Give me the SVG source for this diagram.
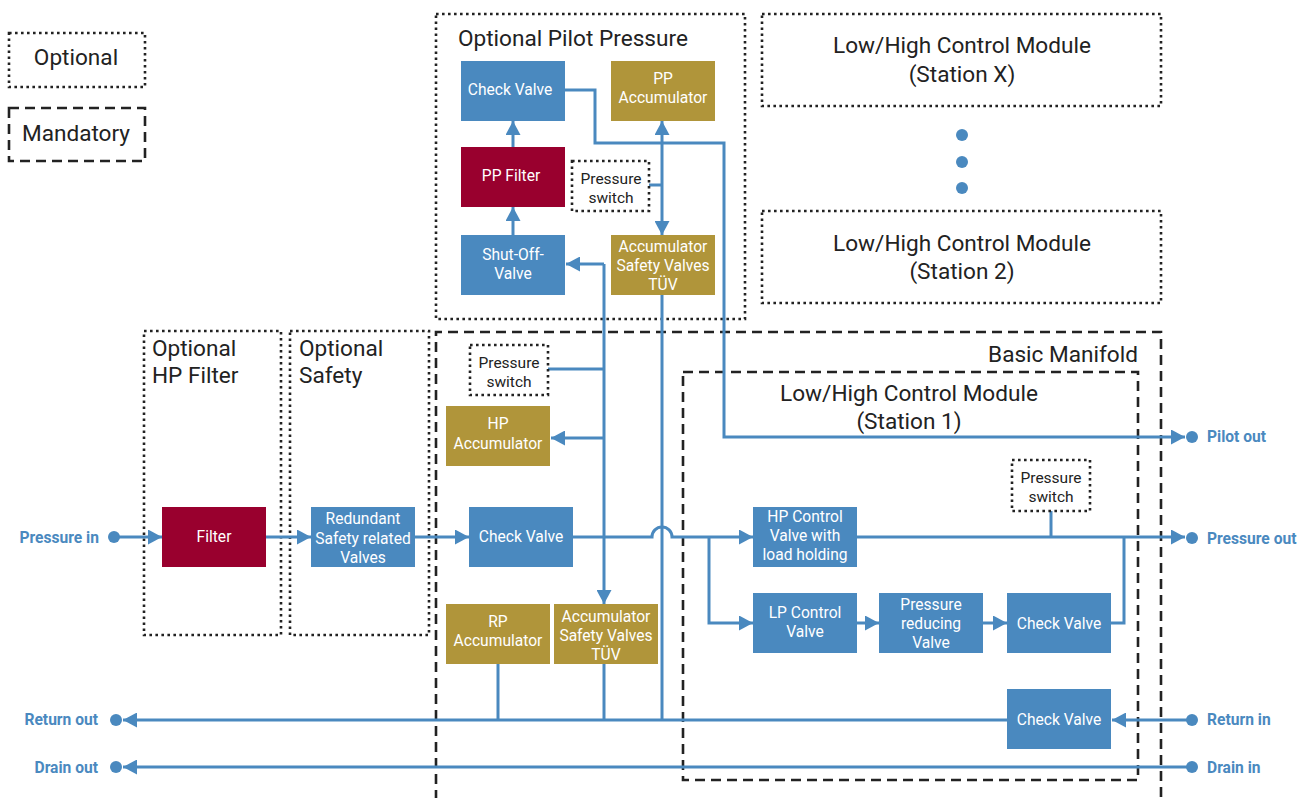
<svg xmlns="http://www.w3.org/2000/svg" width="1310" height="798" viewBox="0 0 1310 798">
<defs>
<style>
.bg{fill:#ffffff}
.dot{fill:none;stroke:#222;stroke-width:2.6;stroke-dasharray:2.6 3.4}
.dash{fill:none;stroke:#222;stroke-width:2.6;stroke-dasharray:10 6}
.blue{fill:#4a89bf}
.gold{fill:#b0953a}
.red{fill:#99002e}
.bt{font-family:Roboto,"Liberation Sans",sans-serif;font-size:15.6px;fill:#ffffff;text-anchor:middle}
.st{font-family:Roboto,"Liberation Sans",sans-serif;font-size:15.5px;fill:#222;text-anchor:middle}
.tt{font-family:Roboto,"Liberation Sans",sans-serif;font-size:22.6px;fill:#222}
.pl{font-family:Roboto,"Liberation Sans",sans-serif;font-size:15.6px;font-weight:bold;fill:#4a89bf}
.ln{fill:none;stroke:#4a89bf;stroke-width:3}
.pt{fill:#4a89bf}
</style>
<marker id="ah" viewBox="0 0 14 15" refX="14" refY="7.5" markerWidth="14" markerHeight="15" markerUnits="userSpaceOnUse" orient="auto-start-reverse">
<path d="M0,0 L14,7.5 L0,15 Z" fill="#4a89bf"/>
</marker>
</defs>
<rect class="bg" x="0" y="0" width="1310" height="798"/>

<g id="legend">
<rect class="dot" x="9" y="33" width="136" height="54"/>
<text class="tt" x="76" y="65" text-anchor="middle">Optional</text>
<rect class="dash" x="9" y="108" width="136" height="53"/>
<text class="tt" x="76" y="141" text-anchor="middle">Mandatory</text>
</g>

<g id="optional-pilot-pressure">
<rect class="dot" x="436" y="14" width="309" height="305"/>
<text class="tt" x="458" y="46">Optional Pilot Pressure</text>
</g>
<g id="optional-hp-filter">
<rect class="dot" x="144" y="331" width="137" height="304"/>
<text class="tt" x="152" y="356">Optional</text>
<text class="tt" x="152" y="383">HP Filter</text>
</g>
<g id="optional-safety">
<rect class="dot" x="290" y="331" width="139" height="304"/>
<text class="tt" x="299" y="356">Optional</text>
<text class="tt" x="299" y="383">Safety</text>
</g>
<g id="basic-manifold">
<path class="dash" d="M436,800 V332 H1161 V800"/>
<text class="tt" x="1138" y="362" text-anchor="end">Basic Manifold</text>
</g>
<g id="station-1">
<rect class="dash" x="683" y="372" width="455" height="408"/>
<text class="tt" x="909" y="401" text-anchor="middle">Low/High Control Module</text>
<text class="tt" x="909" y="429" text-anchor="middle">(Station 1)</text>
</g>
<g id="station-x">
<rect class="dot" x="762" y="14" width="399" height="92"/>
<text class="tt" x="962" y="53" text-anchor="middle">Low/High Control Module</text>
<text class="tt" x="962" y="82" text-anchor="middle">(Station X)</text>
</g>
<g id="station-2">
<rect class="dot" x="762" y="211" width="399" height="92"/>
<text class="tt" x="962" y="251" text-anchor="middle">Low/High Control Module</text>
<text class="tt" x="962" y="279" text-anchor="middle">(Station 2)</text>
</g>
<g id="ellipsis">
<circle class="pt" cx="962" cy="135" r="6"/>
<circle class="pt" cx="962" cy="162" r="6"/>
<circle class="pt" cx="962" cy="188" r="6"/>
</g>

<g id="connectors">
<path class="ln" d="M565,90 H595 V143 H724 V437 H1185" marker-end="url(#ah)"/>
<path class="ln" d="M662,121 V235" marker-start="url(#ah)" marker-end="url(#ah)"/>
<path class="ln" d="M649,185 H662"/>
<path class="ln" d="M513,147 V121" marker-end="url(#ah)"/>
<path class="ln" d="M513,235 V207" marker-end="url(#ah)"/>
<path class="ln" d="M604,264 H566" marker-end="url(#ah)"/>
<path class="ln" d="M604,264 V604" marker-end="url(#ah)"/>
<path class="ln" d="M548,369 H604"/>
<path class="ln" d="M604,438 H551" marker-end="url(#ah)"/>
<path class="ln" d="M662,295 V720"/>
<path class="ln" d="M114,537 H162" marker-end="url(#ah)"/>
<path class="ln" d="M266,537 H311" marker-end="url(#ah)"/>
<path class="ln" d="M415,537 H469" marker-end="url(#ah)"/>
<path class="ln" d="M573,537 H652 A10,10 0 0 1 672,537 H753" marker-end="url(#ah)"/>
<path class="ln" d="M709,537 V623 H753" marker-end="url(#ah)"/>
<path class="ln" d="M857,623 H879" marker-end="url(#ah)"/>
<path class="ln" d="M983,623 H1007" marker-end="url(#ah)"/>
<path class="ln" d="M1111,623 H1124 V537"/>
<path class="ln" d="M857,537 H1185" marker-end="url(#ah)"/>
<path class="ln" d="M1051,511 V537"/>
<path class="ln" d="M498,664 V720"/>
<path class="ln" d="M604,664 V720"/>
<path class="ln" d="M1007,720 H123" marker-end="url(#ah)"/>
<path class="ln" d="M1192,720 H1112" marker-end="url(#ah)"/>
<path class="ln" d="M1192,767 H123" marker-end="url(#ah)"/>
<circle class="pt" cx="114" cy="537" r="6"/>
<circle class="pt" cx="1192" cy="437" r="6"/>
<circle class="pt" cx="1192" cy="538" r="6"/>
<circle class="pt" cx="1192" cy="720" r="6"/>
<circle class="pt" cx="1192" cy="767" r="6"/>
<circle class="pt" cx="116" cy="720" r="6"/>
<circle class="pt" cx="116" cy="767" r="6"/>
</g>

<g id="pp-check-valve"><rect class="blue" x="461" y="61" width="104" height="60"/><text class="bt" x="510" y="95">Check Valve</text></g>
<g id="pp-accumulator"><rect class="gold" x="611" y="61" width="104" height="60"/><text class="bt" x="663" y="84">PP</text><text class="bt" x="663" y="103">Accumulator</text></g>
<g id="pp-filter"><rect class="red" x="461" y="147" width="104" height="60"/><text class="bt" x="511" y="181">PP Filter</text></g>
<g id="pp-pressure-switch"><rect class="dot" x="572" y="161" width="77" height="50"/><text class="st" x="611" y="184">Pressure</text><text class="st" x="611" y="203">switch</text></g>
<g id="shut-off-valve"><rect class="blue" x="461" y="235" width="104" height="60"/><text class="bt" x="513" y="260">Shut-Off-</text><text class="bt" x="513" y="279">Valve</text></g>
<g id="pp-acc-safety"><rect class="gold" x="611" y="235" width="104" height="60"/><text class="bt" x="663" y="252">Accumulator</text><text class="bt" x="663" y="271">Safety Valves</text><text class="bt" x="663" y="290">TÜV</text></g>

<g id="filter"><rect class="red" x="162" y="507" width="104" height="60"/><text class="bt" x="214" y="542">Filter</text></g>
<g id="redundant-safety"><rect class="blue" x="311" y="507" width="104" height="60"/><text class="bt" x="363" y="524">Redundant</text><text class="bt" x="363" y="544">Safety related</text><text class="bt" x="363" y="563">Valves</text></g>

<g id="bm-pressure-switch"><rect class="dot" x="470" y="345" width="78" height="50"/><text class="st" x="509" y="368">Pressure</text><text class="st" x="509" y="387">switch</text></g>
<g id="hp-accumulator"><rect class="gold" x="446" y="406" width="104" height="60"/><text class="bt" x="498" y="429">HP</text><text class="bt" x="498" y="449">Accumulator</text></g>
<g id="bm-check-valve"><rect class="blue" x="469" y="507" width="104" height="60"/><text class="bt" x="521" y="542">Check Valve</text></g>
<g id="rp-accumulator"><rect class="gold" x="446" y="604" width="104" height="60"/><text class="bt" x="498" y="627">RP</text><text class="bt" x="498" y="646">Accumulator</text></g>
<g id="bm-acc-safety"><rect class="gold" x="554" y="604" width="104" height="60"/><text class="bt" x="606" y="622">Accumulator</text><text class="bt" x="606" y="641">Safety Valves</text><text class="bt" x="606" y="660">TÜV</text></g>

<g id="hp-control-valve"><rect class="blue" x="753" y="507" width="104" height="60"/><text class="bt" x="805" y="522">HP Control</text><text class="bt" x="805" y="541">Valve with</text><text class="bt" x="805" y="560">load holding</text></g>
<g id="lp-control-valve"><rect class="blue" x="753" y="593" width="104" height="60"/><text class="bt" x="805" y="618">LP Control</text><text class="bt" x="805" y="637">Valve</text></g>
<g id="pressure-reducing-valve"><rect class="blue" x="879" y="593" width="104" height="60"/><text class="bt" x="931" y="610">Pressure</text><text class="bt" x="931" y="629">reducing</text><text class="bt" x="931" y="648">Valve</text></g>
<g id="st1-check-valve"><rect class="blue" x="1007" y="593" width="104" height="60"/><text class="bt" x="1059" y="629">Check Valve</text></g>
<g id="st1-pressure-switch"><rect class="dot" x="1012" y="460" width="78" height="51"/><text class="st" x="1051" y="483">Pressure</text><text class="st" x="1051" y="502">switch</text></g>
<g id="return-check-valve"><rect class="blue" x="1007" y="689" width="104" height="60"/><text class="bt" x="1059" y="725">Check Valve</text></g>

<g id="ports">
<text class="pl" x="99" y="543" text-anchor="end">Pressure in</text>
<text class="pl" x="98" y="725" text-anchor="end">Return out</text>
<text class="pl" x="98" y="773" text-anchor="end">Drain out</text>
<text class="pl" x="1207" y="442">Pilot out</text>
<text class="pl" x="1207" y="544">Pressure out</text>
<text class="pl" x="1207" y="725">Return in</text>
<text class="pl" x="1207" y="773">Drain in</text>
</g>
</svg>
